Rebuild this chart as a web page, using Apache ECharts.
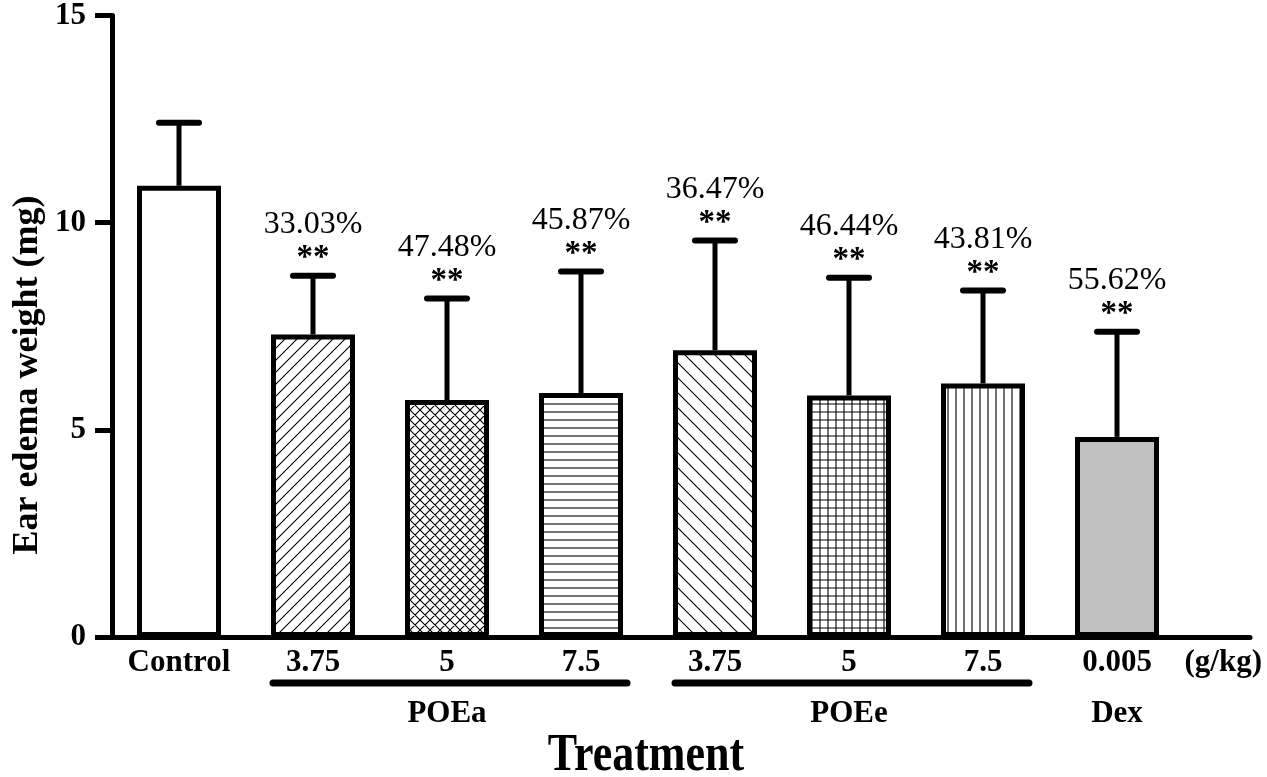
<!DOCTYPE html>
<html>
<head>
<meta charset="utf-8">
<script src="https://cdn.jsdelivr.net/npm/echarts@6/dist/echarts.min.js"></script>
<style>
  html, body { margin: 0; padding: 0; background: #fff; }
  #chart { width: 1267px; height: 777px; }
</style>
</head>
<body>
<div id="chart"></div>
<script>
// data
var categories = ['Control', '3.75', '5', '7.5', '3.75', '5', '7.5', '0.005'];
var means = [10.89, 7.30, 5.72, 5.89, 6.92, 5.83, 6.12, 4.83];
var sds = [1.52, 1.42, 2.45, 2.93, 2.65, 2.84, 2.24, 2.54];
var inhibition = ['', '33.03%', '47.48%', '45.87%', '36.47%', '46.44%', '43.81%', '55.62%'];
var stars = ['', '**', '**', '**', '**', '**', '**', '**'];
var yTicks = [0, 5, 10, 15];
// groups: [first index, last index, label, underline?]
var groups = [[1, 3, 'POEa', true], [4, 6, 'POEe', true], [7, 7, 'Dex', false]];

var serif = '"Liberation Serif", "Times New Roman", serif';

// hatch patterns
function makePattern(kind, s) {
  var c = document.createElement('canvas');
  c.width = s; c.height = s;
  var g = c.getContext('2d');
  g.fillStyle = '#fff';
  g.fillRect(0, 0, s, s);
  g.strokeStyle = '#000';
  g.lineWidth = 1.1;
  g.beginPath();
  if (kind === 'fwd' || kind === 'cross') {
    g.moveTo(-1, s + 1); g.lineTo(s + 1, -1);
    g.moveTo(-1, 1); g.lineTo(1, -1);
    g.moveTo(s - 1, s + 1); g.lineTo(s + 1, s - 1);
  }
  if (kind === 'back' || kind === 'cross') {
    g.moveTo(-1, -1); g.lineTo(s + 1, s + 1);
    g.moveTo(s - 1, -1); g.lineTo(s + 1, 1);
    g.moveTo(-1, s - 1); g.lineTo(1, s + 1);
  }
  if (kind === 'horiz' || kind === 'grid') {
    g.moveTo(0, s / 2); g.lineTo(s, s / 2);
  }
  if (kind === 'vert' || kind === 'grid') {
    g.moveTo(s / 2, 0); g.lineTo(s / 2, s);
  }
  g.stroke();
  return { image: c, repeat: 'repeat' };
}

var fills = [
  '#ffffff',
  makePattern('fwd', 12),
  makePattern('cross', 10),
  makePattern('horiz', 8),
  makePattern('back', 15),
  makePattern('grid', 8),
  makePattern('vert', 8),
  '#c0c0c0'
];

var barData = means.map(function (v, i) {
  return { value: v, itemStyle: { color: fills[i] } };
});
var errData = means.map(function (v, i) { return [i, v, v + sds[i]]; });

var myChart = echarts.init(document.getElementById('chart'));

var option = {
  backgroundColor: '#fff',
  animation: false,
  grid: [
    { left: 112, top: 15, width: 1072, height: 622 },
    { left: 112, top: 15, right: 17, height: 622 }
  ],
  xAxis: [{
    type: 'category',
    gridIndex: 0,
    data: categories,
    axisLine: { show: false },
    axisTick: { show: false },
    axisLabel: {
      margin: 10,
      color: '#000',
      fontFamily: serif,
      fontWeight: 'bold',
      fontSize: 31
    }
  }, {
    type: 'value',
    gridIndex: 1,
    min: 0, max: 1,
    axisLine: { show: true, onZero: false, lineStyle: { color: '#000', width: 5, cap: 'round' } },
    axisTick: { show: false },
    axisLabel: { show: false },
    splitLine: { show: false }
  }],
  yAxis: [{
    type: 'value',
    gridIndex: 0,
    min: yTicks[0], max: yTicks[yTicks.length - 1], interval: 5,
    axisLine: { show: true, lineStyle: { color: '#000', width: 5 } },
    axisTick: { show: true, length: 17, lineStyle: { color: '#000', width: 5 } },
    axisLabel: {
      margin: 26,
      color: '#000',
      fontFamily: serif,
      fontWeight: 'bold',
      fontSize: 31
    },
    splitLine: { show: false }
  }, {
    type: 'value',
    gridIndex: 1,
    show: false
  }],
  series: [{
    type: 'bar',
    xAxisIndex: 0,
    yAxisIndex: 0,
    data: barData,
    barWidth: 84,
    itemStyle: { borderColor: '#000', borderWidth: 5 },
    z: 3
  }, {
    type: 'custom',
    xAxisIndex: 0,
    yAxisIndex: 0,
    data: errData,
    z: 2,
    renderItem: function (params, api) {
      var i = api.value(0);
      var p0 = api.coord([i, api.value(1)]);
      var p1 = api.coord([i, api.value(2)]);
      return {
        type: 'group',
        children: [
          { type: 'line', shape: { x1: p0[0], y1: p0[1], x2: p1[0], y2: p1[1] },
            style: { stroke: '#000', lineWidth: 5 } },
          { type: 'line', shape: { x1: p1[0] - 20, y1: p1[1], x2: p1[0] + 20, y2: p1[1] },
            style: { stroke: '#000', lineWidth: 6, lineCap: 'round' } },
          { type: 'text', x: p1[0], y: p1[1] - 1,
            style: { text: stars[i], align: 'center', verticalAlign: 'bottom',
              font: 'bold 33px ' + serif, fill: '#000' } },
          { type: 'text', x: p1[0], y: p1[1] - 35,
            style: { text: inhibition[i], align: 'center', verticalAlign: 'bottom',
              font: '32px ' + serif, fill: '#000' } }
        ]
      };
    }
  }, {
    type: 'custom',
    xAxisIndex: 0,
    yAxisIndex: 0,
    data: groups.map(function (g) { return [g[0], g[1]]; }),
    z: 2,
    renderItem: function (params, api) {
      var g = groups[params.dataIndex];
      var a = api.coord([g[0], 0]);
      var b = api.coord([g[1], 0]);
      var kids = [];
      if (g[3]) {
        kids.push({ type: 'line', shape: { x1: a[0] - 40, y1: a[1] + 46, x2: b[0] + 46, y2: a[1] + 46 },
          style: { stroke: '#000', lineWidth: 7, lineCap: 'round' } });
      }
      kids.push({ type: 'text', x: (a[0] + b[0]) / 2, y: a[1] + 77,
        style: { text: g[2], align: 'center', verticalAlign: 'middle',
          font: 'bold 31px ' + serif, fill: '#000' } });
      return { type: 'group', children: kids };
    }
  }],
  graphic: [{
    type: 'text',
    x: 28, y: 375,
    rotation: Math.PI / 2,
    style: { text: 'Ear edema weight (mg)', align: 'center', verticalAlign: 'middle',
      font: 'bold 36px ' + serif, fill: '#000' }
  }, {
    type: 'text',
    right: 5,
    top: 647,
    style: { text: '(g/kg)', font: 'bold 31px ' + serif, fill: '#000' }
  }, {
    type: 'text',
    x: 646, y: 756,
    scaleY: 1.2,
    style: { text: 'Treatment', align: 'center', verticalAlign: 'middle',
      font: 'bold 44px ' + serif, fill: '#000' }
  }]
};

myChart.setOption(option);
</script>
</body>
</html>
